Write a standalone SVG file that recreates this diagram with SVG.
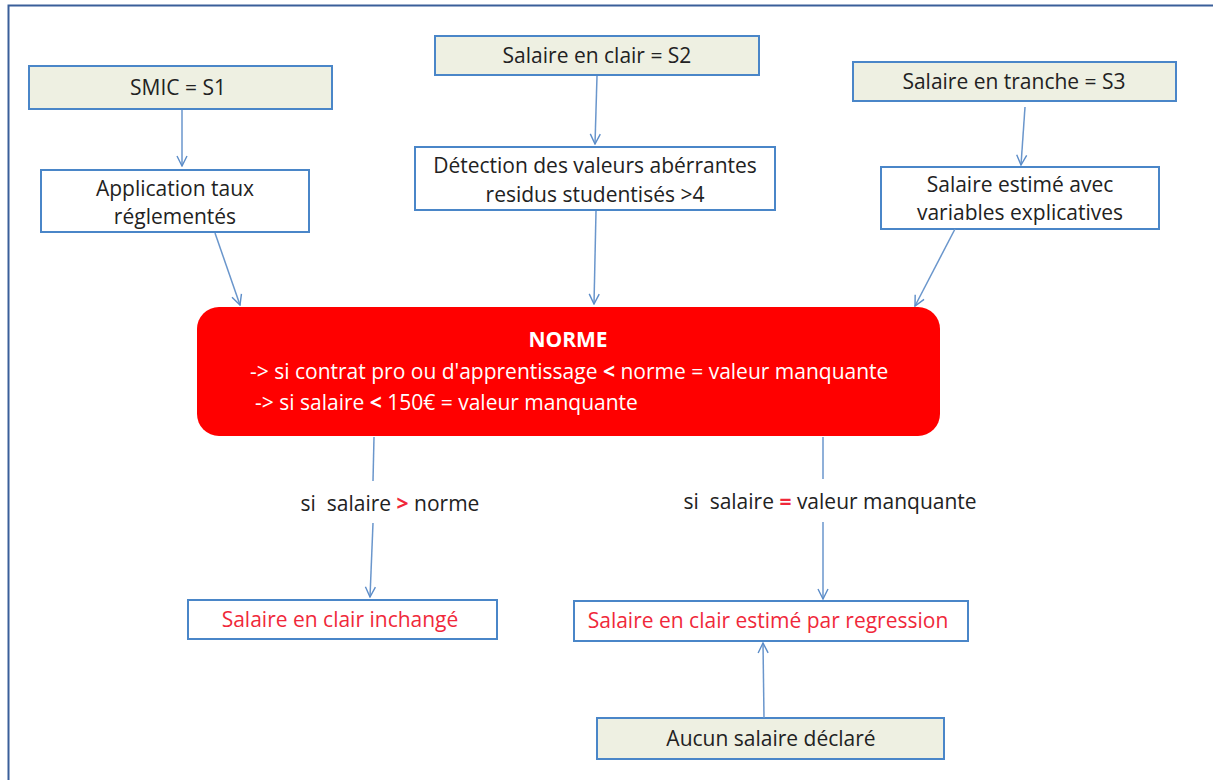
<svg xmlns="http://www.w3.org/2000/svg" width="1213" height="780" viewBox="0 0 1213 780">
<defs>
<marker id="arr" viewBox="0 0 12 12" refX="11" refY="6" markerWidth="12" markerHeight="12" markerUnits="userSpaceOnUse" orient="auto">
<path d="M1,1 L11,6 L1,11" fill="none" stroke="#5b8cc8" stroke-width="1.4"/>
</marker>
</defs>
<style>
.src{fill:#eef0e2;stroke:#4a86c8;stroke-width:2}
.box{fill:#ffffff;stroke:#4a86c8;stroke-width:2}
text{font-family:"Open Sans","Liberation Sans",sans-serif;font-size:21px;fill:#222222;text-anchor:middle}
.red{fill:#f0283a}
.wt{fill:#ffffff}
.pre{white-space:pre}
.c{stroke:#6a96cc;stroke-width:1.5;fill:none;marker-end:url(#arr)}
.l{stroke:#6a96cc;stroke-width:1.5;fill:none}
</style>
<rect width="1213" height="780" fill="#ffffff"/>
<path d="M8.5,780 V5.5 H1213" fill="none" stroke="#3a5f9a" stroke-width="2"/>

<g id="smic"><rect class="src" x="29" y="66" width="303" height="43"/><text x="178" y="95">SMIC = S1</text></g>
<g id="application"><rect class="box" x="41" y="170" width="268" height="62"/><text x="175" y="196">Application taux</text><text x="175" y="224">réglementés</text></g>
<g id="s2"><rect class="src" x="435" y="36" width="324" height="39"/><text x="597" y="63">Salaire en clair = S2</text></g>
<g id="detection"><rect class="box" x="415" y="147" width="360" height="63"/><text x="595" y="173">Détection des valeurs abérrantes</text><text x="595" y="202">residus studentisés &gt;4</text></g>
<g id="s3"><rect class="src" x="853" y="62" width="323" height="39"/><text x="1014" y="89">Salaire en tranche = S3</text></g>
<g id="estime"><rect class="box" x="881" y="167" width="278" height="62"/><text x="1020" y="192">Salaire estimé avec</text><text x="1020" y="220">variables explicatives</text></g>
<g id="norme"><rect x="197" y="307" width="743" height="129" rx="22" fill="#ff0000"/>
<text class="wt" x="568" y="347" font-weight="bold">NORME</text>
<text class="wt" x="250" y="379" style="text-anchor:start">-&gt; si contrat pro ou d'apprentissage <tspan font-weight="bold">&lt;</tspan> norme = valeur manquante</text>
<text class="wt" x="255" y="410" style="text-anchor:start">-&gt; si salaire <tspan font-weight="bold">&lt;</tspan> 150€ = valeur manquante</text></g>
<g id="inchange"><rect class="box" x="188" y="600" width="309" height="39"/><text class="red" x="340" y="627">Salaire en clair inchangé</text></g>
<g id="regression"><rect class="box" x="574" y="601" width="394" height="40"/><text class="red" x="768" y="628">Salaire en clair estimé par regression</text></g>
<g id="aucun"><rect class="src" x="597" y="718" width="347" height="41"/><text x="771" y="746">Aucun salaire déclaré</text></g>

<g id="labels">
<text class="pre" x="390" y="511">si  salaire <tspan class="red" font-weight="bold">&gt;</tspan> norme</text>
<text class="pre" x="830" y="509">si  salaire <tspan class="red" font-weight="bold">=</tspan> valeur manquante</text>
</g>

<g id="connectors">
<path class="c" d="M182,110 L182,166"/>
<path class="c" d="M215,233 L240,305"/>
<path class="c" d="M597,76 L595,144"/>
<path class="c" d="M596,211 L594,304"/>
<path class="c" d="M1025,107 L1021,165"/>
<path class="c" d="M955,229 L915,306"/>
<path class="l" d="M374,437 L373,481"/>
<path class="c" d="M373,523 L370,597"/>
<path class="l" d="M823,437 L823,479"/>
<path class="c" d="M823,522 L823,599"/>
<path class="c" d="M764,718 L763,643"/>
</g>
</svg>
